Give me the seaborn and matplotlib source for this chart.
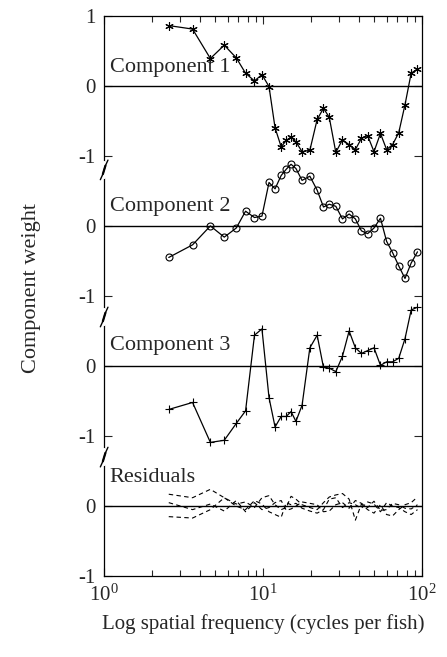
import numpy as np
import pandas as pd
import seaborn as sns
import matplotlib.pyplot as plt
from matplotlib import transforms

# spatial frequencies (cycles per fish), shared by all components
freq = [2.55, 3.60, 4.66, 5.70, 6.78, 7.76, 8.83, 9.84, 10.9, 11.9, 13.0,
        14.0, 15.0, 16.1, 17.6, 19.7, 21.9, 24.0, 26.1, 28.7, 31.6, 34.8,
        38.1, 41.6, 45.5, 49.9, 54.8, 59.9, 65.3, 71.4, 78.2, 85.5, 93.7]

comp1 = [0.86, 0.81, 0.39, 0.58, 0.40, 0.18, 0.07, 0.16, -0.01, -0.60, -0.87,
         -0.78, -0.73, -0.80, -0.94, -0.92, -0.48, -0.32, -0.45, -0.95, -0.77,
         -0.84, -0.91, -0.75, -0.71, -0.94, -0.68, -0.91, -0.84, -0.67, -0.27,
         0.18, 0.24]
comp2 = [-0.45, -0.27, 0.00, -0.16, -0.03, 0.21, 0.12, 0.14, 0.62, 0.53, 0.72,
         0.81, 0.88, 0.82, 0.65, 0.71, 0.51, 0.27, 0.31, 0.28, 0.10, 0.17,
         0.10, -0.07, -0.11, -0.03, 0.11, -0.22, -0.38, -0.57, -0.75, -0.53,
         -0.37]
comp3 = [-0.62, -0.52, -1.09, -1.06, -0.82, -0.64, 0.44, 0.53, -0.45, -0.87,
         -0.72, -0.72, -0.65, -0.79, -0.56, 0.26, 0.44, -0.02, -0.03, -0.08,
         0.14, 0.50, 0.26, 0.18, 0.22, 0.26, 0.01, 0.06, 0.06, 0.11, 0.39,
         0.80, 0.84]

resid_a = [0.17, 0.12, 0.24, 0.12, 0.03, 0.06, -0.02, 0.12, 0.15, 0.02, -0.05,
           -0.02, 0.14, 0.10, 0.02, -0.02, -0.05, 0.05, 0.13, 0.16, 0.18, 0.10,
           -0.20, 0.03, -0.05, -0.10, 0.02, -0.12, -0.14, -0.05, 0.02, 0.05,
           0.13]
resid_b = [-0.15, -0.17, -0.05, 0.12, 0.00, -0.05, 0.08, 0.03, -0.08, -0.12,
           -0.16, 0.05, 0.02, 0.04, -0.03, -0.07, -0.10, -0.05, 0.10, 0.12,
           -0.02, 0.05, 0.02, -0.03, 0.06, 0.03, -0.08, 0.05, 0.00, -0.02,
           -0.08, -0.12, -0.05]
resid_c = [0.05, -0.05, 0.03, -0.07, 0.08, -0.08, 0.05, -0.05, -0.02, 0.05,
           0.08, -0.06, -0.04, 0.00, 0.06, 0.04, 0.02, -0.08, -0.07, 0.02,
           0.05, -0.03, 0.08, 0.04, -0.02, 0.07, -0.06, -0.05, 0.04, 0.02,
           -0.03, -0.04, 0.02]

labels = ['Component 1', 'Component 2', 'Component 3', 'Residuals']
offsets = [0, -2, -4, -6]
ytick_vals = [1, 0, -1, -2, -3, -4, -5, -6, -7]
ytick_text = ['1', '0', '-1', '0', '-1', '0', '-1', '0', '-1']
breaks = [-1.2, -3.3, -5.3]

sns.set_theme(style='ticks')
plt.rcParams['font.family'] = ['Liberation Serif', 'DejaVu Serif']
plt.rcParams['mathtext.fontset'] = 'stix'

fig = plt.figure(figsize=(4.47, 6.57), dpi=100)
ax = fig.add_axes([0.233, 0.123, 0.711, 0.853])

x = np.array(freq)
markers = [(6, 2, 0), 'o', '+']
for vals, off, mk in zip([comp1, comp2, comp3], offsets[:3], markers):
    df = pd.DataFrame({'freq': x, 'w': np.array(vals) + off})
    sns.lineplot(data=df, x='freq', y='w', ax=ax, color='black', lw=0.9,
                 marker=mk, markersize=6 if mk != 'o' else 5,
                 markerfacecolor='none', markeredgecolor='black',
                 markeredgewidth=0.8, estimator=None, sort=False)

for r in [resid_a, resid_b, resid_c]:
    df = pd.DataFrame({'freq': x, 'w': np.array(r) + offsets[3]})
    sns.lineplot(data=df, x='freq', y='w', ax=ax, color='black', lw=0.8,
                 linestyle=(0, (4, 3)), estimator=None, sort=False)

for off in offsets:
    ax.axhline(off, color='black', lw=1.0, zorder=1)

text_dy = [0.12, 0.14, 0.16, 0.27]
for lab, off, dy in zip(labels, offsets, text_dy):
    ax.text(0.018, off + dy, lab, transform=transforms.blended_transform_factory(
        ax.transAxes, ax.transData), fontsize=16, ha='left', va='bottom')

ax.set_xscale('log')
ax.set_xlim(1, 100)
ax.set_ylim(-7, 1)
ax.set_yticks(ytick_vals)
ax.set_yticklabels(ytick_text)
ax.tick_params(axis='both', which='both', direction='in', top=True,
               right=True, labelsize=15, pad=6)
ax.tick_params(axis='both', which='major', length=6, width=0.8)
ax.tick_params(axis='x', which='minor', length=4, width=0.8)
ax.set_xlabel('Log spatial frequency (cycles per fish)', fontsize=15)
ax.set_ylabel('Component weight', fontsize=16)
ax.xaxis.set_label_coords(0.5, -0.068)
ax.yaxis.set_label_coords(-0.20, 0.515)
for s in ax.spines.values():
    s.set_linewidth(0.9)
    s.set_color('black')

# axis break marks on the left spine
bt = transforms.blended_transform_factory(ax.transAxes, ax.transData)
for b in breaks:
    ax.plot([0, 0], [b - 0.1, b + 0.1], transform=bt, color='white',
            lw=3, clip_on=False, zorder=5)
    ax.plot([-0.012, -0.004, 0.004, 0.012], [b - 0.14, b - 0.06, b + 0.06, b + 0.14],
            transform=bt, color='black', lw=1.0, clip_on=False, zorder=6)
    ax.plot([-0.004, 0.004], [b - 0.06, b + 0.06], transform=bt,
            color='black', lw=1.6, clip_on=False, zorder=6)

fig.savefig('out.png', dpi=100)
